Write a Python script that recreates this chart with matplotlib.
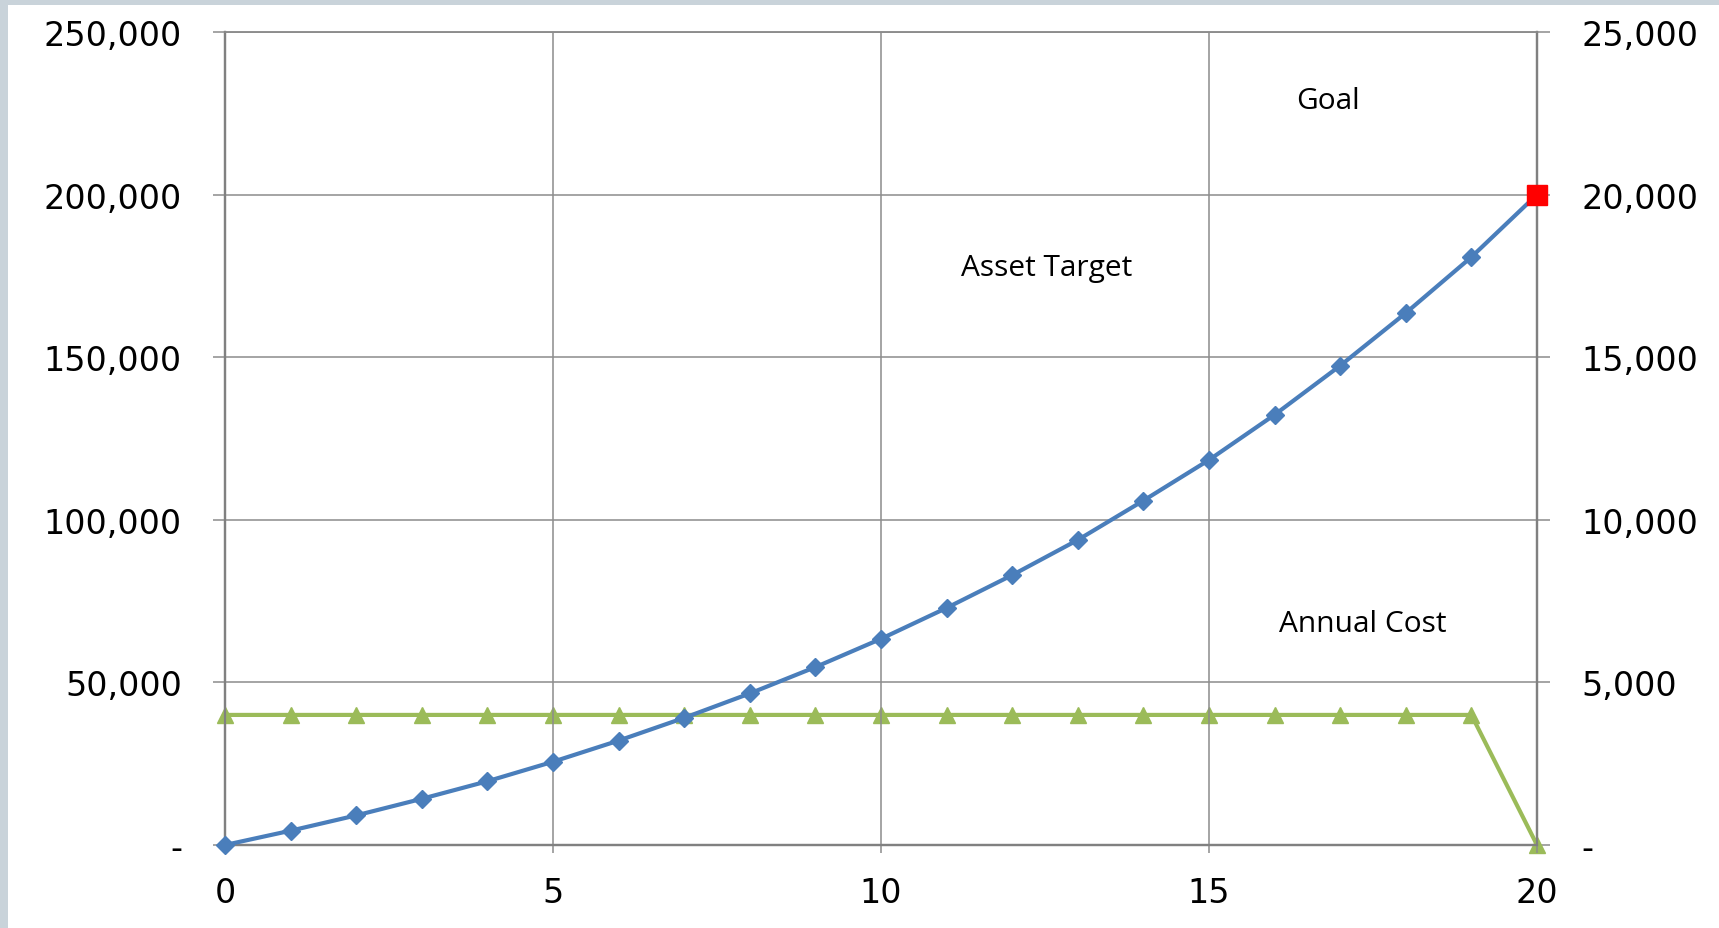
import matplotlib.pyplot as plt
from matplotlib.patches import Rectangle
from matplotlib.ticker import FuncFormatter

# years and the two series
years = list(range(21))
asset_target = [0, 4400, 9100, 14200, 19600, 25600, 32100, 39100, 46600, 54700,
                63400, 72900, 83000, 93800, 105900, 118400, 132300, 147400,
                163600, 180800, 200000]
annual_cost = [4000] * 20 + [0]
goal_year = 20
goal_value = 200000

blue = '#4A7EBB'
green = '#9BBB59'
grid_gray = '#8C8C8C'


def thousands(v, pos):
    # zero shown as a dash, like accounting format
    if abs(v) < 1e-9:
        return '-'
    return '{:,.0f}'.format(v)


fig = plt.figure(figsize=(17.19, 9.29), dpi=100)
fig.patch.set_facecolor('white')

# light frame along the top and left edges
fig.patches.append(Rectangle((0, 0), 8 / 1719, 1, transform=fig.transFigure,
                             facecolor='#C9D3DA', edgecolor='none', zorder=0))
fig.patches.append(Rectangle((0, 1 - 6 / 929), 1, 6 / 929, transform=fig.transFigure,
                             facecolor='#C9D3DA', edgecolor='none', zorder=0))

ax = fig.add_axes([225 / 1719, 83 / 929, 1312 / 1719, 813 / 929])
ax2 = ax.twinx()

ax.plot(years, asset_target, color=blue, lw=3, marker='D', markersize=9.5,
        zorder=3, clip_on=False)
ax.plot([goal_year], [goal_value], linestyle='none', marker='s', markersize=15,
        color='#FF0000', zorder=5, clip_on=False)
ax2.plot(years, annual_cost, color=green, lw=3, marker='^', markersize=12,
         zorder=3, clip_on=False)

ax.set_xlim(0, 20)
ax.set_ylim(0, 250000)
ax2.set_ylim(0, 25000)
ax.set_xticks(range(0, 21, 5))
ax.set_yticks(range(0, 250001, 50000))
ax2.set_yticks(range(0, 25001, 5000))
ax.yaxis.set_major_formatter(FuncFormatter(thousands))
ax2.yaxis.set_major_formatter(FuncFormatter(thousands))

ax.grid(True, color=grid_gray, lw=1.1)
ax.set_axisbelow(True)

for a in (ax, ax2):
    for side in ('left', 'right', 'bottom', 'top'):
        a.spines[side].set_color('#808080')
        a.spines[side].set_linewidth(1.6)
    a.spines['top'].set_linewidth(1.1)
    a.spines['top'].set_color(grid_gray)
    a.tick_params(axis='both', colors=grid_gray, labelcolor='black',
                  labelsize=24, width=1.1)

ax.tick_params(axis='y', length=9, pad=22)
ax2.tick_params(axis='y', length=9, pad=23)
ax.tick_params(axis='x', length=6, pad=16)
ax.zorder = 2
ax.patch.set_visible(False)

for lbl in ax.get_yticklabels() + ax2.get_yticklabels() + ax.get_xticklabels():
    lbl.set_family('DejaVu Sans')

label_font = dict(family='Open Sans', fontsize=21.5, ha='center', va='center',
                  color='black')
ax.text(16.81, 228800, 'Goal', **label_font)
ax.text(12.53, 177700, 'Asset Target', **label_font)
ax.text(17.35, 68000, 'Annual Cost', **label_font)

fig.savefig('out.png', dpi=100)
